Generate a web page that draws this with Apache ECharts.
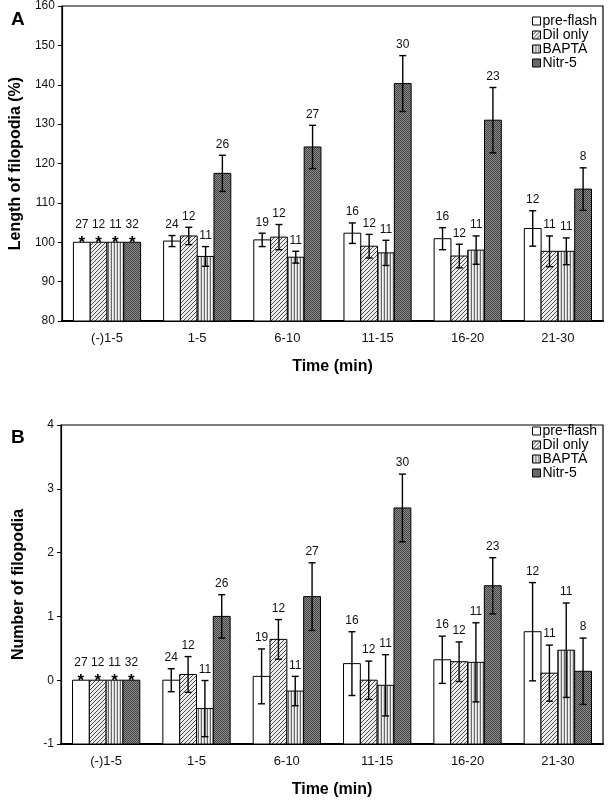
<!DOCTYPE html>
<html><head><meta charset="utf-8">
<script src="https://cdn.jsdelivr.net/npm/echarts@6/dist/echarts.min.js"></script>
<style>html,body{margin:0;padding:0;background:#fff}#c{width:608px;height:801px}</style>
</head><body><div id="c"></div>
<script>
const categories = ['(-)1-5','1-5','6-10','11-15','16-20','21-30'];
const seriesNames = ['pre-flash','Dil only','BAPTA','Nitr-5'];
const nPre = [27,24,19,16,16,12];
const nDil = [12,12,12,12,12,11];
const nBapta = [11,11,11,11,11,11];
const nNitr = [32,26,27,30,23,8];
// Panel A: length of filopodia (%)
const lenPre = [100,100.3,100.6,102.3,100.9,103.5];
const lenPreErr = [0,1.4,1.7,2.6,2.8,4.5];
const lenDil = [100,101.6,101.3,99.0,96.5,97.7];
const lenDilErr = [0,2.2,3.2,3.0,3.0,3.9];
const lenBapta = [100,96.4,96.2,97.3,98.0,97.7];
const lenBaptaErr = [0,2.5,1.5,3.2,3.6,3.4];
const lenNitr = [100,117.5,124.2,140.3,131.0,113.5];
const lenNitrErr = [0,4.6,5.5,7.1,8.3,5.4];
// Panel B: number of filopodia
const numPre = [0,0.0,0.06,0.26,0.32,0.76];
const numPreErr = [0,0.18,0.43,0.5,0.37,0.77];
const numDil = [0,0.09,0.64,0.0,0.29,0.11];
const numDilErr = [0,0.28,0.31,0.3,0.31,0.44];
const numBapta = [0,-0.445,-0.17,-0.08,0.28,0.47];
const numBaptaErr = [0,0.44,0.23,0.48,0.62,0.74];
const numNitr = [0,1.0,1.31,2.70,1.48,0.14];
const numNitrErr = [0,0.34,0.53,0.53,0.44,0.52];
const lenTicks = {min:80,max:160,interval:10};
const numTicks = {min:-1,max:4,interval:1};

const FONT = '"Liberation Sans", Arial, sans-serif';
const GAP = 0.255;

function pat(w,h,draw){const c=document.createElement('canvas');c.width=w;c.height=h;const g=c.getContext('2d');draw(g);return {image:c,repeat:'repeat'};}
const fills = [
  '#ffffff',
  pat(4,4,g=>{g.fillStyle='#eeeeee';g.fillRect(0,0,4,4);g.fillStyle='#4a4a4a';for(let i=0;i<4;i++){g.fillRect(i,3-i,1,1);}}),
  pat(3,3,g=>{g.fillStyle='#f4f4f4';g.fillRect(0,0,3,3);g.fillStyle='#6a6a6a';g.fillRect(0,0,1,3);g.fillStyle='#cfcfcf';g.fillRect(2,0,1,3);}),
  pat(2,2,g=>{g.fillStyle='#8c8c8c';g.fillRect(0,0,2,2);g.fillStyle='#444444';g.fillRect(0,0,1,1);g.fillRect(1,1,1,1);})
];

// bars rise from the axis minimum (as in the original figure)
function barSeries(k, idx, vals, base){
  return {type:'custom', name:seriesNames[k], xAxisIndex:idx, yAxisIndex:idx, z:5, silent:true, clip:true,
    itemStyle:{color:fills[k], borderColor:'#000', borderWidth:1},
    dimensions:['x','y'], encode:{x:0,y:1},
    data: vals.map((v,i)=>[i,v]),
    renderItem:(params, api)=>{
      const ci=api.value(0), v=api.value(1);
      const band=api.size([1,0])[0];
      const bw=band*(1-GAP)/4;
      const top=api.coord([ci,v]), bot=api.coord([ci,base]);
      const x0=top[0]-2*bw+k*bw;
      return {type:'rect', shape:{x:x0, y:Math.min(top[1],bot[1]), width:bw, height:Math.abs(bot[1]-top[1])},
        style:{fill:fills[k], stroke:'#000', lineWidth:1}};
    }};
}
function errSeries(k, idx, vals, errs, ns){
  return {type:'custom', name:'err'+idx+'_'+k, xAxisIndex:idx, yAxisIndex:idx, z:10, silent:true,
    dimensions:['x','y','e','n'], encode:{x:0,y:1},
    data: vals.map((v,i)=>[i,v,errs[i],ns[i]]),
    renderItem:(params, api)=>{
      const ci=api.value(0), v=api.value(1), e=api.value(2), n=api.value(3);
      const band=api.size([1,0])[0];
      const bw=band*(1-GAP)/4;
      const p=api.coord([ci,v]);
      const cx=p[0]+(k-1.5)*bw;
      const children=[];
      const ts={fill:'#111', font:'12px '+FONT, align:'center', verticalAlign:'bottom'};
      if(e===0){
        children.push({type:'text', style:{text:'*', x:cx, y:p[1]+10, fill:'#000', font:'bold 17px '+FONT, align:'center', verticalAlign:'bottom'}});
        children.push({type:'text', style:Object.assign({text:String(n), x:cx, y:p[1]-12}, ts)});
      } else {
        const hi=api.coord([ci,v+e])[1], lo=api.coord([ci,v-e])[1];
        const cw=3.5;
        const ls={stroke:'#000', lineWidth:1.4};
        children.push({type:'line', shape:{x1:cx,y1:hi,x2:cx,y2:lo}, style:ls});
        children.push({type:'line', shape:{x1:cx-cw,y1:hi,x2:cx+cw,y2:hi}, style:ls});
        children.push({type:'line', shape:{x1:cx-cw,y1:lo,x2:cx+cw,y2:lo}, style:ls});
        children.push({type:'text', style:Object.assign({text:String(n), x:cx, y:hi-5}, ts)});
      }
      return {type:'group', children};
    }};
}

const grids=[{left:61,right:5,top:6,height:315,show:true,borderColor:'#000',borderWidth:1.2},
             {left:61,right:5,top:425,height:319,show:true,borderColor:'#000',borderWidth:1.2}];
function xAx(i){return {type:'category',gridIndex:i,data:categories,name:'Time (min)',nameLocation:'middle',nameGap:38,
  nameTextStyle:{fontFamily:FONT,fontWeight:'bold',fontSize:16,color:'#000'},
  axisLine:{onZero:false,lineStyle:{color:'#000',width:1.8}},axisTick:{show:false},
  axisLabel:{fontFamily:FONT,fontSize:13,color:'#111',margin:11}};}
function yAx(i,t,name,gap){return {type:'value',gridIndex:i,min:t.min,max:t.max,interval:t.interval,name:name,nameLocation:'middle',nameGap:gap,
  nameTextStyle:{fontFamily:FONT,fontWeight:'bold',fontSize:16,color:'#000'},
  axisLine:{show:true,onZero:false,lineStyle:{color:'#000',width:1.2}},axisTick:{show:true,length:4,lineStyle:{color:'#000'}},
  splitLine:{show:false},axisLabel:{fontFamily:FONT,fontSize:12,color:'#111',margin:7}};}

const series=[];
const A=[[lenPre,lenPreErr,nPre],[lenDil,lenDilErr,nDil],[lenBapta,lenBaptaErr,nBapta],[lenNitr,lenNitrErr,nNitr]];
const B=[[numPre,numPreErr,nPre],[numDil,numDilErr,nDil],[numBapta,numBaptaErr,nBapta],[numNitr,numNitrErr,nNitr]];
A.forEach((d,k)=>series.push(barSeries(k,0,d[0],lenTicks.min)));
B.forEach((d,k)=>series.push(barSeries(k,1,d[0],numTicks.min)));
A.forEach((d,k)=>series.push(errSeries(k,0,d[0],d[1],d[2])));
B.forEach((d,k)=>series.push(errSeries(k,1,d[0],d[1],d[2])));

const legendBase={orient:'vertical',left:527,icon:'rect',itemWidth:8,itemHeight:8,itemGap:0,itemStyle:{borderColor:'#000',borderWidth:1},
  textStyle:{fontFamily:FONT,fontSize:14,lineHeight:14,color:'#000',padding:[0,0,0,-3]},selectedMode:false,data:seriesNames};
const chart=echarts.init(document.getElementById('c'),null,{renderer:'canvas'});
chart.setOption({
  animation:false,
  grid:grids,
  xAxis:[xAx(0),xAx(1)],
  yAxis:[yAx(0,lenTicks,'Length of filopodia (%)',34),yAx(1,numTicks,'Number of filopodia',34)],
  legend:[Object.assign({top:9},legendBase),Object.assign({top:419},legendBase)],
  graphic:[
    {type:'text',left:11,top:10,style:{text:'A',font:'bold 19px '+FONT,fill:'#000'}},
    {type:'text',left:11,top:428,style:{text:'B',font:'bold 19px '+FONT,fill:'#000'}}
  ],
  series:series
});
</script></body></html>
